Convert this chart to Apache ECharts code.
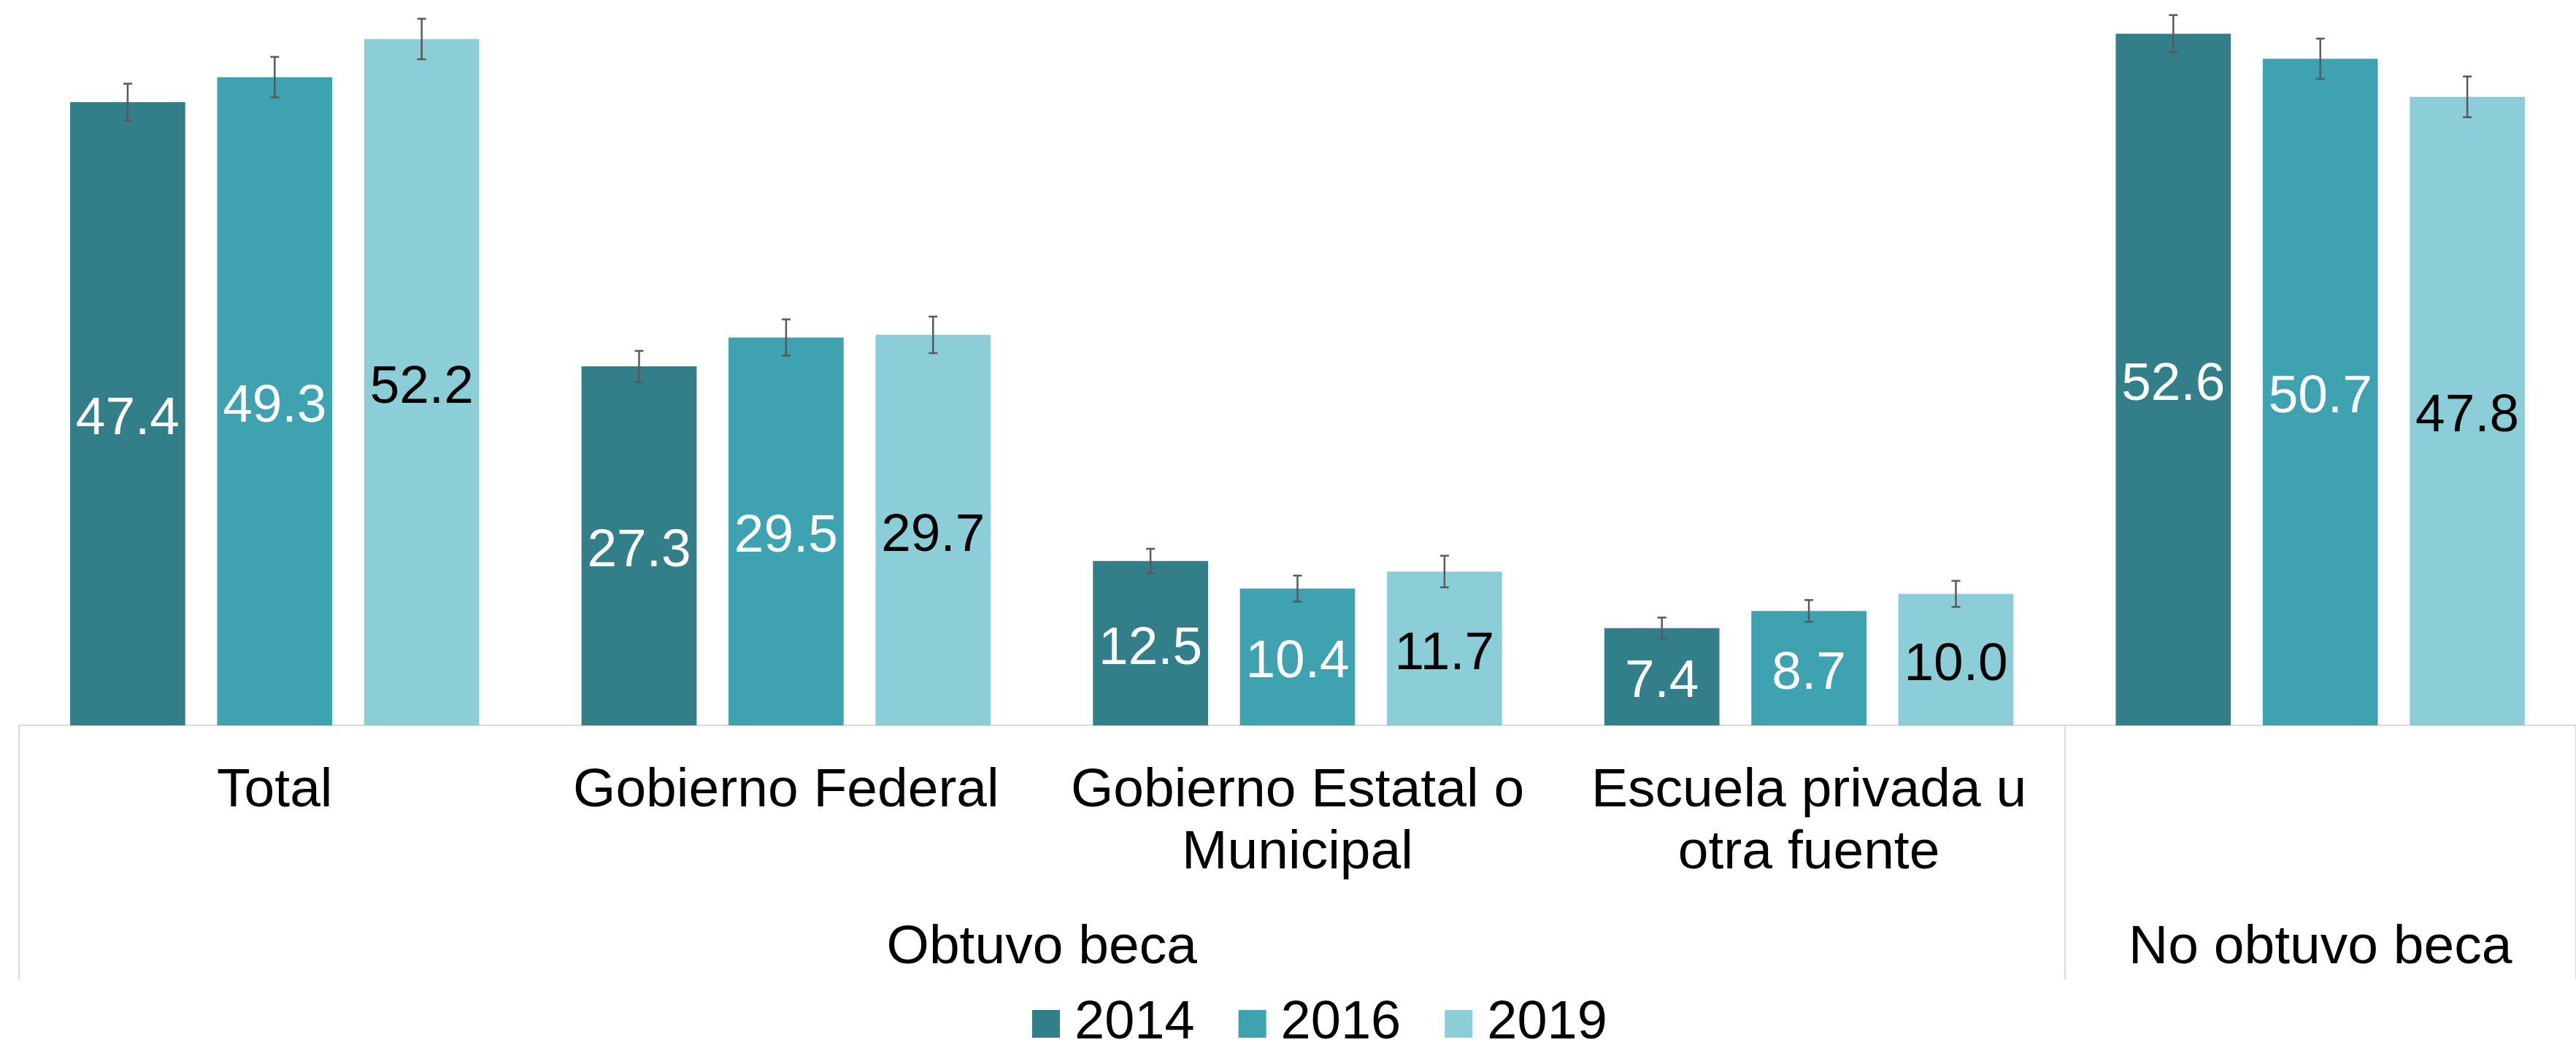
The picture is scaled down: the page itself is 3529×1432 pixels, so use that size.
<!DOCTYPE html>
<html>
<head>
<meta charset="utf-8">
<script src="https://cdn.jsdelivr.net/npm/echarts@6/dist/echarts.min.js"></script>
<style>
  html, body { margin: 0; padding: 0; background: #fff; }
  #mychart { width: 3529px; height: 1432px; }
</style>
</head>
<body>
<div id="mychart"></div>
<script>
  var categories = ['Total', 'Gobierno Federal', 'Gobierno Estatal o\nMunicipal', 'Escuela privada u\notra fuente', 'No obtuvo beca']
  var years = ['2014', '2016', '2019']
  var values2014 = [47.4, 27.3, 12.5, 7.4, 52.6]
  var values2016 = [49.3, 29.5, 10.4, 8.7, 50.7]
  var values2019 = [52.2, 29.7, 11.7, 10.0, 47.8]
  var err2014 = [1.40, 1.18, 0.93, 0.80, 1.42]
  var err2016 = [1.54, 1.38, 0.99, 0.83, 1.53]
  var err2019 = [1.54, 1.39, 1.20, 0.99, 1.55]
  var groupLabels = ['Obtuvo beca', 'No obtuvo beca']
  var groupCenters = [2, 4.5]
  var groupBounds = [0, 4, 5]

  var colors = ['#327F8A', '#3FA2B1', '#8CCED8']
  var labelColors = ['#fff', '#fff', '#000']
  var catGap = 0.2
  var barGap = 0.277
  var font = 'Liberation Sans, Arial, sans-serif'

  var values = [values2014, values2016, values2019]
  var errs = [err2014, err2016, err2019]

  var series = []
  values.forEach(function(v, i) {
    series.push({
      name: years[i],
      type: 'bar',
      barCategoryGap: (catGap * 100) + '%',
      barGap: (barGap * 100) + '%',
      itemStyle: { color: colors[i] },
      label: {
        show: true,
        position: 'inside',
        offset: [0, 8],
        fontFamily: font,
        fontSize: 73,
        color: labelColors[i],
        formatter: function(p) { return p.value.toFixed(1) }
      },
      data: v
    })
  })

  var errData = []
  values.forEach(function(v, i) {
    v.forEach(function(val, c) {
      errData.push([c, val, errs[i][c], i])
    })
  })

  // error bars, placed over the matching bar of each group
  series.push({
    type: 'custom',
    silent: true,
    encode: { x: 0, y: 1 },
    z: 10,
    renderItem: function(params, api) {
      var c = api.value(0)
      var val = api.value(1)
      var e = api.value(2)
      var s = api.value(3)
      var band = api.size([1, 0])[0]
      var bw = band * (1 - catGap) / (3 + 2 * barGap)
      var off = (s - 1) * bw * (1 + barGap)
      var hi = api.coord([c, val + e])
      var lo = api.coord([c, val - e])
      var x = hi[0] + off
      var capW = 6
      var style = { stroke: '#595959', lineWidth: 2.5 }
      return {
        type: 'group',
        children: [
          { type: 'line', shape: { x1: x, y1: hi[1], x2: x, y2: lo[1] }, style: style },
          { type: 'line', shape: { x1: x - capW, y1: hi[1], x2: x + capW, y2: hi[1] }, style: style },
          { type: 'line', shape: { x1: x - capW, y1: lo[1], x2: x + capW, y2: lo[1] }, style: style }
        ]
      }
    },
    data: errData
  })

  var chart = echarts.init(document.getElementById('mychart'))
  chart.setOption({
    animation: false,
    backgroundColor: '#fff',
    textStyle: { fontFamily: font },
    grid: {
      left: 26,
      top: 3,
      width: 3532,
      bottom: 438
    },
    legend: {
      data: years,
      left: 1414,
      top: 1366,
      padding: 0,
      icon: 'rect',
      itemWidth: 38,
      itemHeight: 38,
      itemGap: 60,
      textStyle: {
        fontFamily: font,
        fontSize: 74,
        color: '#000',
        padding: [0, 0, 0, 15]
      }
    },
    xAxis: [
      {
        type: 'category',
        data: categories,
        axisLine: { lineStyle: { color: '#d9d9d9', width: 2 } },
        axisTick: { show: false },
        axisLabel: {
          fontFamily: font,
          fontSize: 75,
          lineHeight: 85,
          margin: 48,
          color: '#000',
          interval: 0,
          // last group has no sub-category, its name sits on the lower row
          formatter: function(v, idx) { return idx === 4 ? '' : v }
        }
      },
      {
        type: 'value',
        min: 0,
        max: 5,
        position: 'bottom',
        axisLine: { show: false },
        splitLine: { show: false },
        axisTick: {
          show: true,
          customValues: groupBounds,
          length: 348,
          lineStyle: { color: '#d9d9d9', width: 2 }
        },
        axisLabel: {
          customValues: groupCenters,
          fontFamily: font,
          fontSize: 75,
          lineHeight: 85,
          margin: 263,
          color: '#000',
          formatter: function(v) {
            return groupLabels[groupCenters.indexOf(v)]
          }
        }
      }
    ],
    yAxis: {
      type: 'value',
      min: 0,
      max: 55,
      show: false
    },
    series: series
  })
</script>
</body>
</html>
